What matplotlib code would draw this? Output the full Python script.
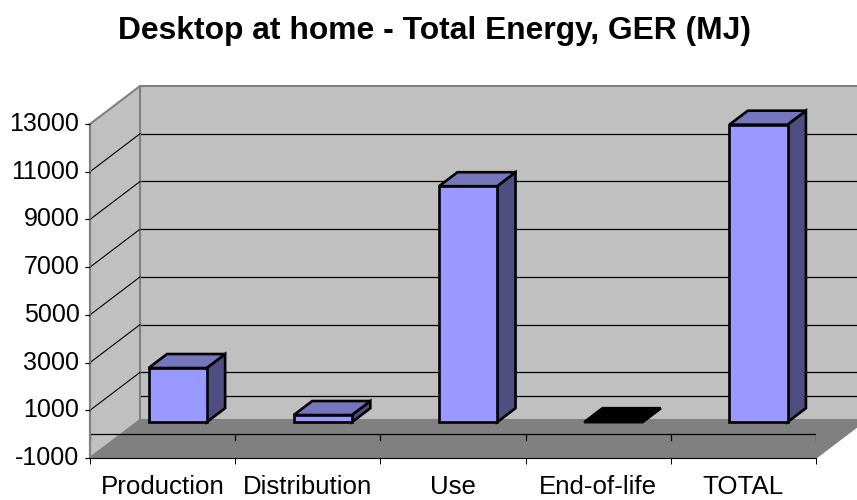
import matplotlib
matplotlib.use("Agg")
import matplotlib.pyplot as plt
from matplotlib.transforms import ScaledTranslation

plt.rcParams['font.family'] = ['Liberation Sans', 'DejaVu Sans']

categories = ["Production", "Distribution", "Use", "End-of-life", "TOTAL"]
energy = [2270, 300, 9890, -20, 12470]
tick_values = [-1000, 1000, 3000, 5000, 7000, 9000, 11000, 13000]
grid_values = [0, 1000, 3000, 5000, 7000, 9000, 11000]

W, H = 857, 500
# depth of the fake 3d box, in data units
DX = 50 / 145.2
DY = 38 / 334.5 * 14000
YMIN, YMAX = -1000, 13000


def proj(x, y, d=1.0):
    return x + DX * d, y + DY * d


def face(ax, pts, color, edge=None, lw=0, z=1):
    xs = [p[0] for p in pts]
    ys = [p[1] for p in pts]
    ax.fill(xs, ys, facecolor=color, edgecolor=edge if edge else color,
            linewidth=lw, joinstyle='miter', zorder=z, clip_on=False)


def draw_box(ax):
    nx = len(categories)
    # back wall, side wall, floor
    face(ax, [proj(0, YMIN), proj(nx, YMIN), proj(nx, YMAX), proj(0, YMAX)], '#c0c0c0', '#808080', 1.5, 1)
    face(ax, [(0, YMIN), proj(0, YMIN), proj(0, YMAX), (0, YMAX)], '#c0c0c0', '#808080', 1.5, 1.1)
    face(ax, [(0, YMIN), (nx, YMIN), proj(nx, YMIN), proj(0, YMIN)], '#808080', '#808080', 1, 1.2)

    for v in grid_values:
        x0, y0 = proj(0, v)
        x1, y1 = proj(nx, v)
        ax.plot([x0, x1], [y0, y1], color='black', lw=0.9, zorder=1.05, clip_on=False)
        if v != 0:
            ax.plot([0, x0], [v, y0], color='black', lw=0.8, zorder=1.15, clip_on=False)

    # the zero line lies across the floor
    ax.plot([0, nx], [0, 0], color='black', lw=0.9, zorder=1.3)
    for i in range(nx + 1):
        ax.plot([i, i], [0, -250], color='black', lw=0.9, zorder=1.3)


def draw_bars(ax):
    d0 = 12 / 38
    d1 = 26 / 38
    w = 0.4
    for i, v in enumerate(energy):
        l = i + 0.295
        r = l + w
        lw = 1.9
        top = '#7676bf' if v > 0 else 'black'
        side = '#4e4e80' if v > 0 else 'black'
        front = '#9999ff' if v > 0 else 'black'
        b = 0
        t = max(v, 0)
        face(ax, [proj(r, b, d0), proj(r, b, d1), proj(r, t, d1), proj(r, t, d0)], side, 'black', lw, 3)
        face(ax, [proj(l, t, d0), proj(r, t, d0), proj(r, t, d1), proj(l, t, d1)], top, 'black', lw, 3)
        if v > 0:
            face(ax, [proj(l, b, d0), proj(r, b, d0), proj(r, t, d0), proj(l, t, d0)], front, 'black', lw, 3.1)


def main():
    fig = plt.figure(figsize=(W / 100, H / 100), dpi=100)
    ax = fig.add_axes([90 / W, 1 - 458 / H, (816 - 90) / W, (458 - 124) / H])
    ax.set_xlim(0, len(categories))
    ax.set_ylim(YMIN, YMAX)
    ax.patch.set_visible(False)

    draw_box(ax)
    draw_bars(ax)

    for s in ['top', 'right']:
        ax.spines[s].set_visible(False)
    ax.spines['left'].set_color('#808080')
    ax.spines['left'].set_linewidth(1.5)
    ax.spines['left'].set_zorder(1.4)
    ax.spines['bottom'].set_linewidth(0.8)
    ax.spines['bottom'].set_zorder(1.4)

    ax.set_yticks(tick_values)
    ax.set_yticklabels([str(v) for v in tick_values], fontsize=18)
    ax.tick_params(axis='y', length=3.6, width=0.9, pad=4)
    # labels sit a little above their tick
    for lab in ax.get_yticklabels():
        lab.set_transform(lab.get_transform() + ScaledTranslation(0, 2.5 / 100, fig.dpi_scale_trans))

    ax.set_xticks(range(len(categories) + 1))
    ax.set_xticklabels([])
    ax.tick_params(axis='x', which='major', length=4.3, width=0.7)
    ax.set_xticks([i + 0.5 for i in range(len(categories))], minor=True)
    ax.set_xticklabels(categories, minor=True, fontsize=18.6)
    ax.tick_params(axis='x', which='minor', length=0, pad=12)

    fig.text(435 / W, 1 - 31 / H, "Desktop at home - Total Energy, GER (MJ)",
             fontsize=22.9, fontweight='bold', ha='center', va='center')

    fig.savefig("out.png", dpi=100)


if __name__ == '__main__':
    main()
